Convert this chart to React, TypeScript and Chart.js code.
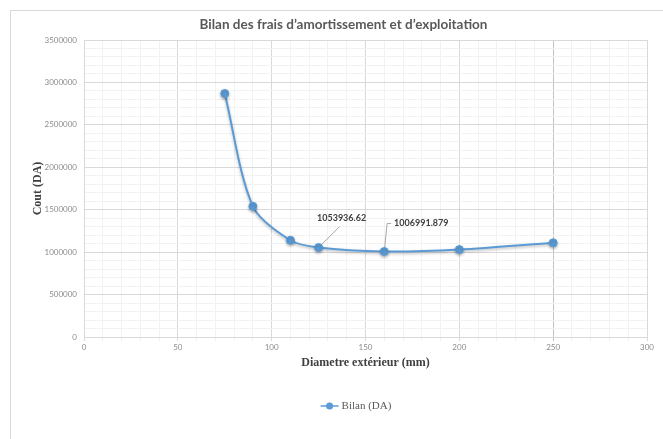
import React, { useEffect, useRef } from 'react';
import { Chart, registerables } from 'chart.js';

Chart.register(...registerables);

// Series: cost balance against outer diameter
const DIAMETERS = [75, 90, 110, 125, 160, 200, 250];
const COSTS = [2870000, 1540000, 1140000, 1053936.62, 1006991.879, 1030000, 1110000];

const SERIES_LABEL = 'Bilan (DA)';
const CHART_TITLE = 'Bilan des frais d’amortissement et d’exploitation';
const X_TITLE = 'Diametre extérieur (mm)';
const Y_TITLE = 'Cout (DA)';

// Axis ranges with major (labelled) and minor steps
const X_MIN = 0;
const X_MAX = 300;
const X_MAJOR = 50;
const X_MINOR = 10;
const Y_MIN = 0;
const Y_MAX = 3500000;
const Y_MAJOR = 500000;
const Y_MINOR = 100000;

// Points that carry a value label, with the label offset from the point
const LABELLED = [
  { index: 3, dx: 23, dy: -29, leader: 'below' },
  { index: 4, dx: 37, dy: -28, leader: 'left' },
];

const BLUE = '#5b9bd5';
const TEXT_GRAY = '#595959';
const MAJOR_GRID = '#d9d9d9';
const MINOR_GRID = '#f2f2f2';
const HIGHLIGHT_GRID = '#c4c4c4';

const decorations = {
  id: 'decorations',
  beforeDatasetsDraw(chart: any) {
    const ctx = chart.ctx as CanvasRenderingContext2D;
    const meta = chart.getDatasetMeta(0);
    ctx.save();
    ctx.font = 'bold 9px Lato';
    ctx.strokeStyle = '#a6a6a6';
    ctx.lineWidth = 1;
    for (const p of LABELLED) {
      const el = meta.data[p.index];
      const cx = el.x + p.dx;
      const cy = el.y + p.dy;
      const w = ctx.measureText(String(COSTS[p.index])).width;
      ctx.beginPath();
      ctx.moveTo(el.x, el.y);
      if (p.leader === 'below') {
        ctx.lineTo(cx - 2, cy + 8);
      } else {
        const lx = cx - w / 2 - 3;
        ctx.lineTo(lx - 4, cy);
        ctx.lineTo(lx, cy);
      }
      ctx.stroke();
    }
    ctx.restore();
    // soft shadow under the series
    ctx.save();
    ctx.shadowColor = 'rgba(0,0,0,0.28)';
    ctx.shadowBlur = 3;
    ctx.shadowOffsetY = 1.5;
  },
  afterDatasetsDraw(chart: any) {
    const ctx = chart.ctx as CanvasRenderingContext2D;
    ctx.restore();
    const meta = chart.getDatasetMeta(0);
    ctx.save();
    ctx.font = 'bold 9px Lato';
    ctx.fillStyle = '#404040';
    ctx.textAlign = 'center';
    ctx.textBaseline = 'middle';
    for (const p of LABELLED) {
      const el = meta.data[p.index];
      ctx.fillText(String(COSTS[p.index]), el.x + p.dx, el.y + p.dy);
    }
    ctx.restore();
  },
  afterDraw(chart: any) {
    const ctx = chart.ctx as CanvasRenderingContext2D;
    ctx.save();
    // chart title
    ctx.font = 'bold 13.5px Lato';
    ctx.fillStyle = TEXT_GRAY;
    ctx.textAlign = 'center';
    ctx.textBaseline = 'middle';
    ctx.fillText(CHART_TITLE, 343.5, 25);

    // legend: line with a marker, then the series name
    ctx.font = '11px "Liberation Serif"';
    const tw = ctx.measureText(SERIES_LABEL).width;
    const markerW = 18;
    const gap = 3;
    const total = markerW + gap + tw;
    const lx = 356 - total / 2;
    const ly = 406;
    ctx.strokeStyle = BLUE;
    ctx.lineWidth = 1.5;
    ctx.beginPath();
    ctx.moveTo(lx, ly);
    ctx.lineTo(lx + markerW, ly);
    ctx.stroke();
    ctx.fillStyle = BLUE;
    ctx.beginPath();
    ctx.arc(lx + markerW / 2, ly, 3.5, 0, Math.PI * 2);
    ctx.fill();
    ctx.fillStyle = TEXT_GRAY;
    ctx.textAlign = 'left';
    ctx.fillText(SERIES_LABEL, lx + markerW + gap, ly);
    ctx.restore();
  },
};

export default function App() {
  const canvasRef = useRef<HTMLCanvasElement | null>(null);

  useEffect(() => {
    const canvas = canvasRef.current;
    if (!canvas) return;
    const lastX = DIAMETERS[DIAMETERS.length - 1];

    const chart = new Chart(canvas, {
      type: 'line',
      data: {
        datasets: [
          {
            label: SERIES_LABEL,
            data: DIAMETERS.map((x, i) => ({ x, y: COSTS[i] })),
            borderColor: BLUE,
            backgroundColor: BLUE,
            borderWidth: 2,
            pointRadius: 4,
            pointBackgroundColor: BLUE,
            pointBorderColor: BLUE,
            pointBorderWidth: 1,
            tension: 0.3,
            fill: false,
          },
        ],
      },
      options: {
        responsive: false,
        animation: false,
        devicePixelRatio: 1,
        layout: { padding: { top: 40, left: 0, right: 16, bottom: 62 } },
        plugins: {
          legend: { display: false },
          title: { display: false },
          tooltip: { enabled: false },
        },
        scales: {
          x: {
            type: 'linear',
            min: X_MIN,
            max: X_MAX,
            afterFit: (scale: any) => {
              scale.height = 40;
            },
            ticks: {
              stepSize: X_MINOR,
              autoSkip: false,
              maxTicksLimit: 1000,
              maxRotation: 0,
              padding: 2,
              color: '#8c8c8c',
              font: { family: 'Lato', size: 8 },
              callback: (v: any) => (Number(v) % X_MAJOR === 0 ? String(v) : ''),
            },
            grid: {
              drawTicks: true,
              tickLength: 4,
              lineWidth: 1,
              color: (c: any) => {
                const v = c.tick ? c.tick.value : 0;
                if (v === lastX) return HIGHLIGHT_GRID;
                return v % X_MAJOR === 0 ? MAJOR_GRID : MINOR_GRID;
              },
            },
            border: { display: true, color: MAJOR_GRID },
            title: {
              display: true,
              text: X_TITLE,
              color: '#404040',
              font: { family: '"Liberation Serif"', size: 12, weight: 'bold' },
              padding: { top: 0, bottom: 6.8 },
            },
          },
          y: {
            type: 'linear',
            min: Y_MIN,
            max: Y_MAX,
            afterFit: (scale: any) => {
              scale.width = 84;
            },
            ticks: {
              stepSize: Y_MINOR,
              autoSkip: false,
              maxTicksLimit: 1000,
              padding: 7,
              color: '#8c8c8c',
              font: { family: 'Lato', size: 8 },
              callback: (v: any) => (Number(v) % Y_MAJOR === 0 ? String(v) : ''),
            },
            grid: {
              drawTicks: false,
              lineWidth: 1,
              color: (c: any) => {
                const v = c.tick ? c.tick.value : 0;
                return v % Y_MAJOR === 0 ? MAJOR_GRID : MINOR_GRID;
              },
            },
            border: { display: true, color: MAJOR_GRID },
            title: {
              display: true,
              text: Y_TITLE,
              color: '#404040',
              font: { family: '"Liberation Serif"', size: 12, weight: 'bold' },
              padding: { top: 30.3, bottom: 0 },
            },
          },
        },
      },
      plugins: [decorations],
    });

    return () => chart.destroy();
  }, []);

  return (
    <div
      style={{
        position: 'fixed',
        left: 0,
        top: 0,
        width: 663,
        height: 439,
        overflow: 'hidden',
        background: '#ffffff',
      }}
    >
      <div
        style={{
          position: 'absolute',
          left: 10,
          top: 10,
          width: 700,
          height: 500,
          border: '1px solid #d9d9d9',
        }}
      />
      <canvas
        ref={canvasRef}
        width={663}
        height={439}
        style={{ position: 'absolute', left: 0, top: 0, width: 663, height: 439 }}
      />
    </div>
  );
}
